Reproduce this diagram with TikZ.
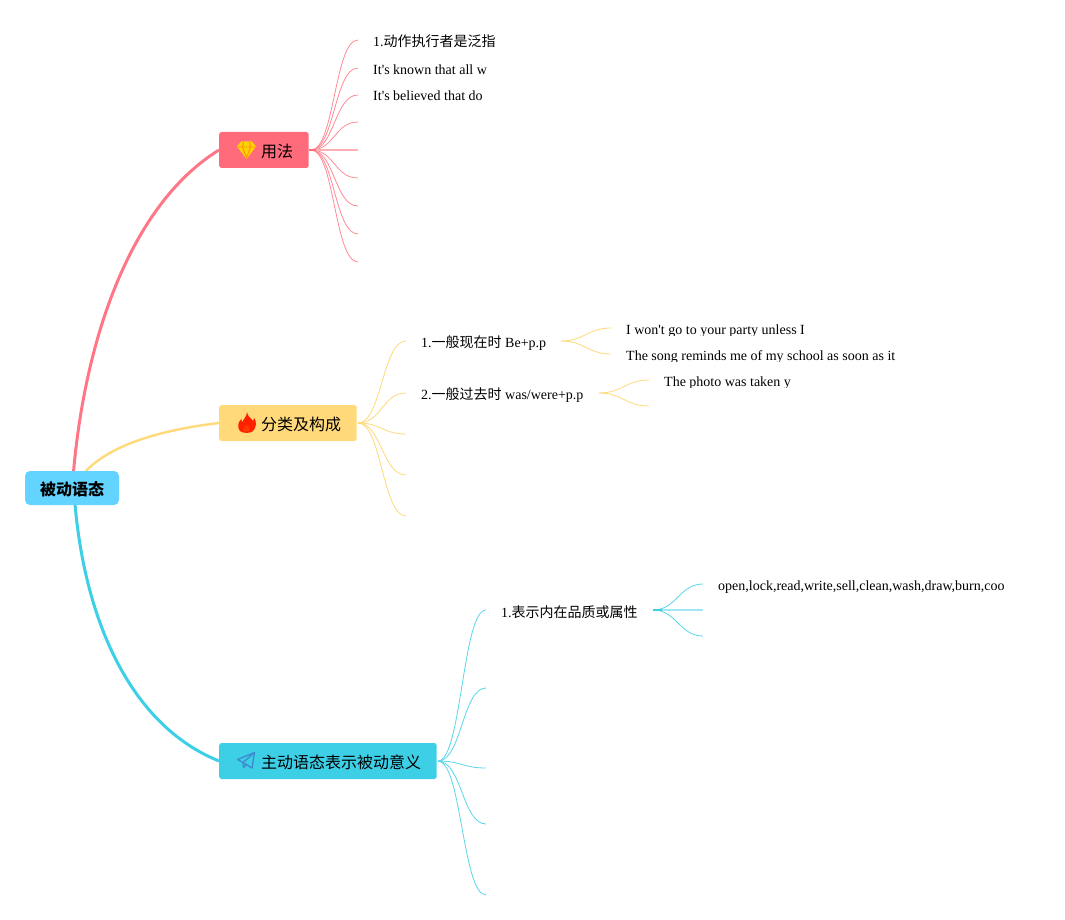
\documentclass[tikz,border=0pt]{standalone}
\usepackage{fontspec}
\setmainfont{Liberation Serif}[Ligatures=TeXOff]
\newfontfamily\cjk{Noto Sans CJK SC}
\newcommand{\zh}[1]{{\cjk #1}}
\definecolor{rootc}{HTML}{63D3FF}
\definecolor{redc}{HTML}{FF6B7B}
\definecolor{yelc}{HTML}{FFD97A}
\definecolor{cyac}{HTML}{3CCFE6}
\tikzset{
  x=1pt,y=-1pt,
  root/.style={fill=rootc,rounded corners=5pt,inner sep=0pt,minimum width=94pt,minimum height=34pt},
  topic/.style={rounded corners=2.5pt,inner sep=0pt,minimum height=36pt,anchor=west},
  ttl/.style={anchor=west,inner sep=0pt,font=\fontsize{16}{18}\selectfont},
  leaf/.style={anchor=base west,inner sep=0pt,font=\fontsize{14}{16}\selectfont},
  bigline/.style={line width=3pt},
  thinred/.style={line width=0.8pt,redc!80!white},
  thinyel/.style={line width=0.8pt,yelc},
  thincya/.style={line width=0.8pt,cyac!85!white},
}
\newcommand{\fan}[4]{% style, start x, start y, end coord
  \draw[#1] (#2,#3) .. controls ([xshift=23.5pt]#2,#3) and ([xshift=-23.5pt]#4) .. (#4);
}
\begin{document}
\begin{tikzpicture}
\useasboundingbox (0,0) rectangle (1065,920);
\node[topic,fill=redc,minimum width=89.5pt] (t1) at (219,150) {};
\node[topic,fill=yelc,minimum width=137.5pt] (t2) at (219,423) {};
\node[topic,fill=cyac,minimum width=217.5pt] (t3) at (219,761) {};
% main branches
\coordinate (r1) at (73.5,472);
\coordinate (r2) at (85,472);
\coordinate (r3) at (75,504);
\draw[bigline,redc!92!white] (r1) .. controls (85,340) and (130,205) .. (t1.west);
\draw[line width=2.4pt,yelc] (r2) .. controls (110,445) and (160,430) .. (t2.west);
\draw[bigline,cyac] (r3) .. controls (85,620) and (130,725) .. (t3.west);
\node[root] (root) at (72,488) {};
\node[font=\fontsize{16}{18}\selectfont,inner sep=0pt] (roott) at (72,489) {\cjk\bfseries 被动语态};
% titles
\node[ttl] (tt1) at (261,151.5) {\zh{用法}};
\node[ttl] (tt2) at (261,424.5) {\zh{分类及构成}};
\node[ttl] (tt3) at (261,762.5) {\zh{主动语态表示被动意义}};
% icons
\begin{scope}[shift={(246.5,150)}]
  \fill[yellow!70!orange] (-9.5,-3.5) -- (-5.5,-8.5) -- (5.5,-8.5) -- (9.5,-3.5) -- (0,9) -- cycle;
  \draw[orange!85!yellow,line width=.9pt,line join=round] (-8.5,-3) -- (8.5,-3) (-3,-8) -- (-4,-3) -- (0,8) -- (4,-3) -- (3,-8);
\end{scope}
\begin{scope}[shift={(246.5,423)}]
  \fill[red!75!orange] (0.5,-11) .. controls (1,-6) and (5,-5) .. (6.5,-2) .. controls (7.5,-3) and (7.5,-5) .. (7.5,-5.5) .. controls (10,-2) and (10.5,4) .. (6.5,8) .. controls (4.5,10.5) and (-4.5,10.5) .. (-6.5,8) .. controls (-10,4) and (-8,-2) .. (-5,-4) .. controls (-5,-2) and (-4.5,-1) .. (-4,-1) .. controls (-3,-4) and (0.5,-7) .. (0.5,-11) -- cycle;
  \fill[orange!45!red] (0.5,2) .. controls (2,4) and (4,4.5) .. (3,7.5) .. controls (2,9) and (-2.5,9) .. (-3.5,7.5) .. controls (-4.5,5.5) and (-1.5,4) .. (0.5,2) -- cycle;
\end{scope}
\begin{scope}[shift={(246.5,761)}]
  \draw[cyan!60!blue!80!white,line width=1.4pt,line join=round] (8,-8.5) -- (-9,-1.5) -- (-3.5,1.5) -- (5.5,7) -- cycle (8,-8.5) -- (-3.5,1.5) -- (-3,6.5) -- (0,3.8);
\end{scope}
% leaves of the first branch
\node[leaf] (a1) at (373,47) {1.\zh{动作执行者是泛指}};
\node[leaf] (a2) at (373,74.7) {It's known that all w};
\node[leaf] (a3) at (373,100.7) {It's believed that do};
\coordinate (a1e) at (358,40);
\coordinate (a2e) at (358,68);
\coordinate (a3e) at (358,95);
\coordinate (a4e) at (358,122);
\coordinate (a5e) at (358,150);
\coordinate (a6e) at (358,178);
\coordinate (a7e) at (358,206);
\coordinate (a8e) at (358,234);
\coordinate (a9e) at (358,262);
\foreach \e in {a1e,a2e,a3e,a4e,a6e,a7e,a8e,a9e}{\fan{thinred}{311}{150}{\e}}
\draw[line width=1.2pt,redc!55!white] (311,150) -- (a5e);
\draw[line width=1.6pt,redc] (309,150) -- (316,150);
% second branch
\node[leaf] (b1) at (421,347.5) {1.\zh{一般现在时} Be+p.p};
\node[leaf] (b2) at (421,399.5) {2.\zh{一般过去时} was/were+p.p};
\coordinate (b1e) at (406,341);
\coordinate (b2e) at (406,393);
\coordinate (b3e) at (406,434);
\coordinate (b4e) at (406,475);
\coordinate (b5e) at (406,516);
\foreach \e in {b1e,b2e,b3e,b4e,b5e}{\fan{thinyel}{358}{423}{\e}}
\begin{scope}
  \clip (620,315) rectangle (900,335);
  \node[leaf] (c1) at (626,334) {I won't go to your party unless I};
\end{scope}
\begin{scope}
  \clip (620,341) rectangle (900,361);
  \node[leaf] (c2) at (626,360) {The song reminds me of my school as soon as it};
\end{scope}
\begin{scope}
  \clip (658,367) rectangle (800,387);
  \node[leaf] (c3) at (664,386) {The photo was taken y};
\end{scope}
\coordinate (c1e) at (611,328);
\coordinate (c2e) at (611,354);
\coordinate (c3e) at (649,380);
\coordinate (c4e) at (649,406);
\foreach \e in {c1e,c2e}{\fan{thinyel}{561}{341}{\e}}
\foreach \e in {c3e,c4e}{\fan{thinyel}{599}{393}{\e}}
% third branch
\node[leaf] (d1) at (501,617) {1.\zh{表示内在品质或属性}};
\coordinate (d1e) at (486,610);
\coordinate (d2e) at (486,688);
\coordinate (d3e) at (486,768);
\coordinate (d4e) at (486,824);
\coordinate (d5e) at (486,895);
\foreach \e in {d1e,d2e,d3e,d4e,d5e}{\fan{thincya}{438}{761}{\e}}
\node[leaf] (e1) at (718,590) {open,lock,read,write,sell,clean,wash,draw,burn,coo};
\coordinate (e1e) at (703,584);
\coordinate (e2e) at (703,610);
\coordinate (e3e) at (703,636);
\foreach \e in {e1e,e3e}{\fan{thincya}{653}{610}{\e}}
\draw[line width=1.2pt,cyac!50!white] (655,610) -- (e2e);
\draw[line width=1.6pt,cyac] (653,610) -- (662,610);
\end{tikzpicture}
\end{document}
